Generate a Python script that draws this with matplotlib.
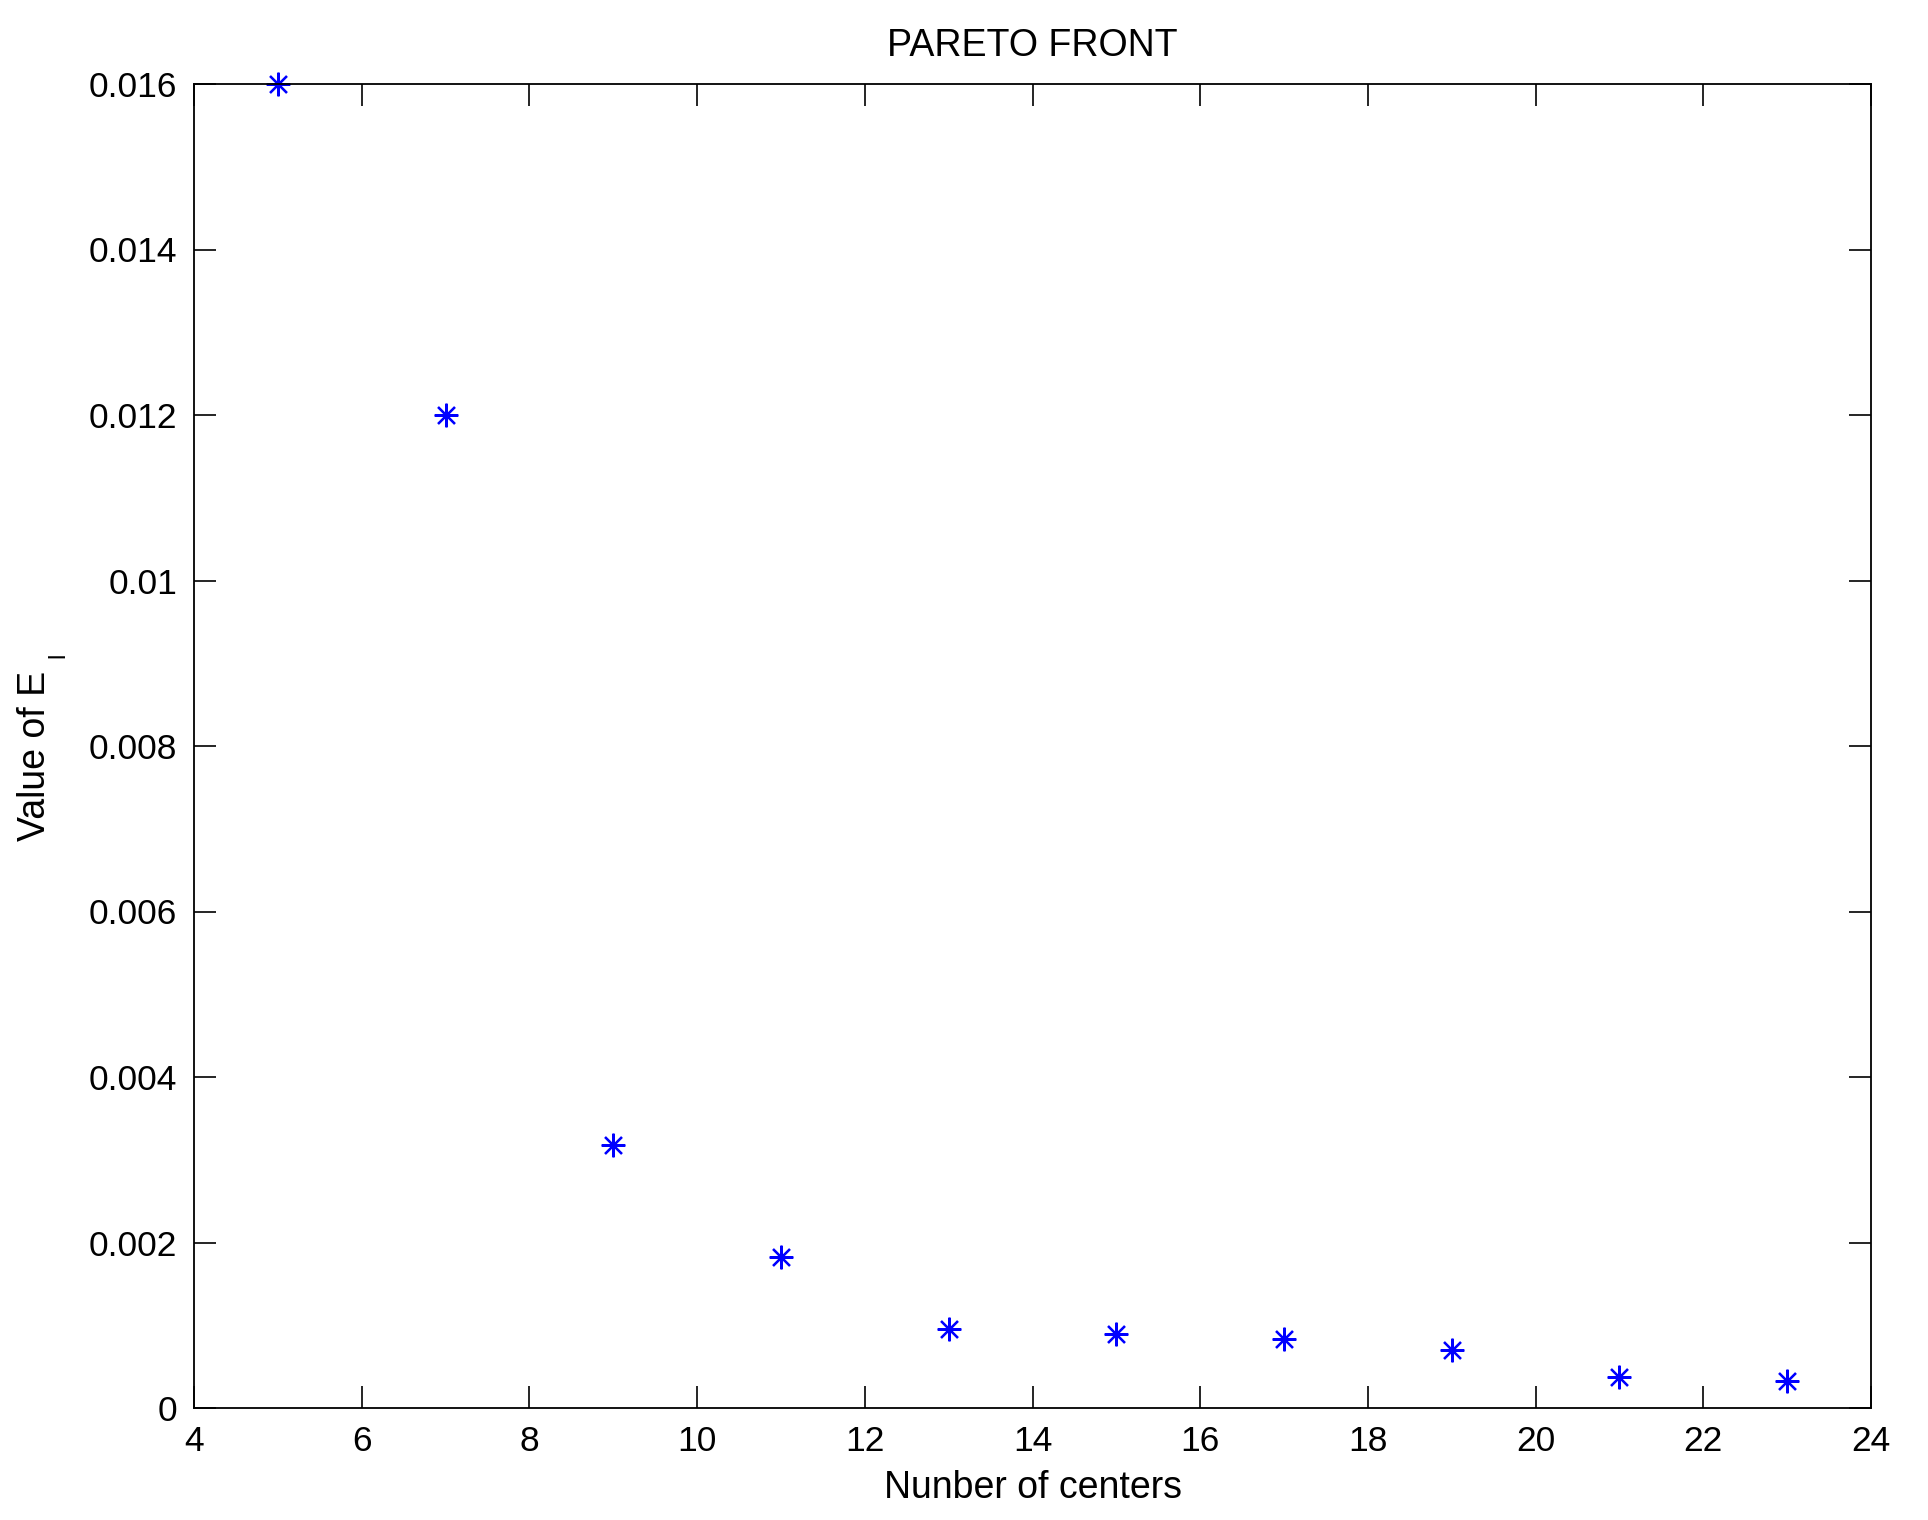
import numpy as np
from matplotlib import pyplot as plt

centers = [5, 7, 9, 11, 13, 15, 17, 19, 21, 23]
error_l = [0.0160, 0.0120, 0.00318, 0.00183, 0.00095, 0.00089, 0.00083, 0.00070, 0.00037, 0.00033]
xticks = [4, 6, 8, 10, 12, 14, 16, 18, 20, 22, 24]
yticks = [0, 0.002, 0.004, 0.006, 0.008, 0.01, 0.012, 0.014, 0.016]
yticklabels = ['0', '0.002', '0.004', '0.006', '0.008', '0.01', '0.012', '0.014', '0.016']


def main():
    plt.rcParams['font.family'] = ['Liberation Sans', 'DejaVu Sans']

    W, H = 1928, 1520
    fig = plt.figure(figsize=(W / 100, H / 100), dpi=100)
    ax = fig.add_axes([194 / W, 1 - 1408 / H, (1871 - 194) / W, (1408 - 84) / H])

    ax.plot(centers, error_l, linestyle='none', marker=(8, 2, 0), markersize=17,
            markeredgewidth=1.6, color='#0000ff', clip_on=False)

    ax.set_xlim(4, 24)
    ax.set_ylim(0, 0.016)
    ax.set_xticks(xticks)
    ax.set_yticks(yticks)
    ax.set_yticklabels(yticklabels)
    ax.tick_params(direction='in', length=16, width=1.2, labelsize=25.5, pad=12,
                   top=True, right=True)
    for s in ax.spines.values():
        s.set_linewidth(1.3)

    ax.set_title('PARETO FRONT', fontsize=27, pad=20)
    ax.set_xlabel('Nunber of centers', fontsize=27, labelpad=9)

    # y label, with the subscript dropped low as in the original
    fig.text(35 / W, 1 - 756 / H, 'Value of E', fontsize=27, rotation=90,
             ha='center', va='center')
    fig.text(58 / W, 1 - 655 / H, 'l', fontsize=17, rotation=90,
             ha='center', va='center')

    fig.savefig('out.png', dpi=100)


if __name__ == '__main__':
    main()
